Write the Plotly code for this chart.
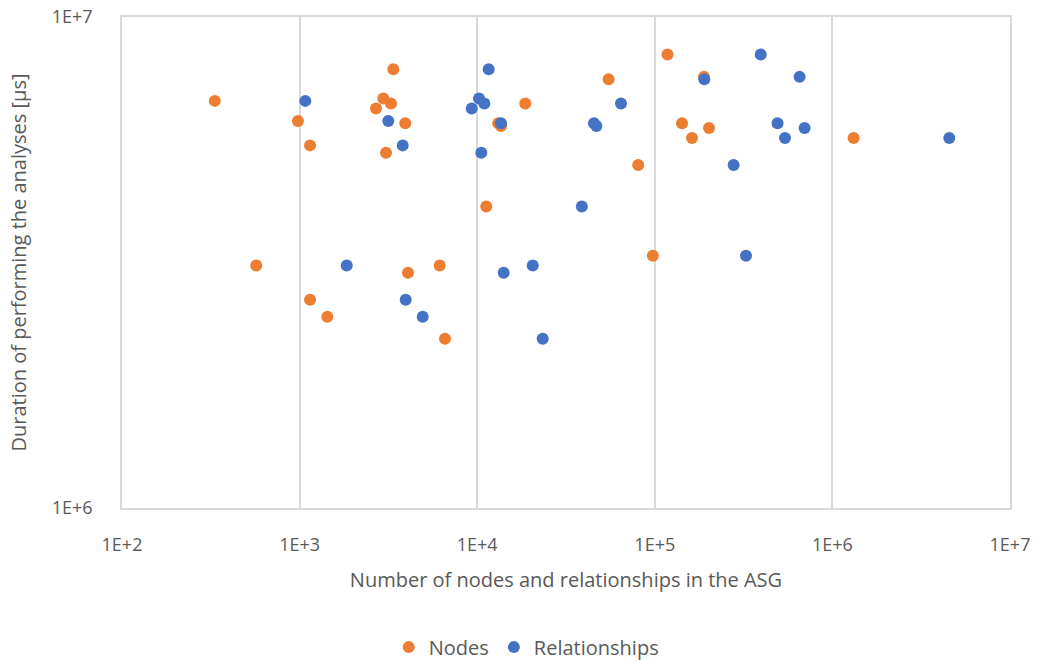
import plotly.graph_objects as go

# Per-project measurements: size of the ASG and time spent on the analyses
nodes = [333, 3371, 2960, 3270, 2693, 979, 3937, 1145, 3066, 570,
         6150, 4077, 1145, 1432, 6587, 18654, 13147, 13614, 11250, 117900,
         54950, 189200, 142300, 162000, 202000, 80640, 97560, 1316000]
relationships = [1077, 11610, 10235, 10965, 9311, 3158, 13614, 3806, 10546, 1842,
                 20540, 14100, 3957, 4934, 23380, 64520, 45460, 46900, 38820, 394800,
                 190000, 653600, 490900, 541000, 697400, 277800, 326200, 4551000]
duration_us = [6748000, 7826000, 6820000, 6662000, 6509000, 6143000, 6074000, 5477000, 5293000, 3119000,
               3119000, 3014000, 2656000, 2452000, 2211000, 6662000, 6074000, 5995000, 4110000, 8386000,
               7467000, 7552000, 6074000, 5671000, 5944000, 4996000, 3264000, 5671000]

x_tick_vals = [1e2, 1e3, 1e4, 1e5, 1e6, 1e7]
x_tick_text = ["1E+2", "1E+3", "1E+4", "1E+5", "1E+6", "1E+7"]
y_tick_vals = [1e6, 1e7]
y_tick_text = ["1E+6", "1E+7"]

ORANGE = "#ED7D31"
BLUE = "#4472C4"
GRID = "#D9D9D9"
TEXT = "#595959"
FONT = "Open Sans, Noto Sans, sans-serif"

fig = go.Figure()
fig.add_trace(go.Scatter(
    x=nodes, y=duration_us, mode="markers", name="Nodes",
    marker=dict(color=ORANGE, size=12, line=dict(width=0)),
))
fig.add_trace(go.Scatter(
    x=relationships, y=duration_us, mode="markers", name="Relationships",
    marker=dict(color=BLUE, size=12, line=dict(width=0)),
))

fig.update_layout(
    width=1038, height=661,
    margin=dict(l=122, r=28, t=17, b=153, autoexpand=False),
    paper_bgcolor="white", plot_bgcolor="white",
    font=dict(family=FONT, size=18, color=TEXT),
    showlegend=True,
    legend=dict(
        orientation="h", xref="container", x=0.507, xanchor="center",
        yref="container", y=0.021, yanchor="middle",
        font=dict(size=20, color=TEXT), itemsizing="constant", itemwidth=30,
        bgcolor="rgba(0,0,0,0)",
    ),
    xaxis=dict(
        type="log", range=[2, 7], automargin=False,
        tickvals=x_tick_vals, ticktext=x_tick_text,
        showgrid=True, gridcolor=GRID, gridwidth=1.5,
        showline=True, linecolor=GRID, linewidth=1.5, mirror=True,
        ticks="", ticklabelstandoff=20, zeroline=False,
        tickfont=dict(size=18, color=TEXT),
        title=dict(text="Number of nodes and relationships in the ASG",
                   font=dict(size=20, color=TEXT), standoff=18),
    ),
    yaxis=dict(
        type="log", range=[6, 7], automargin=False,
        tickvals=y_tick_vals, ticktext=y_tick_text,
        showgrid=False,
        showline=True, linecolor=GRID, linewidth=1.5, mirror=True,
        ticks="", ticklabelstandoff=24, zeroline=False,
        tickfont=dict(size=18, color=TEXT),
        title=dict(text="Duration of performing the analyses [µs]",
                   font=dict(size=20, color=TEXT), standoff=20),
    ),
)

fig.write_html("out.html")
